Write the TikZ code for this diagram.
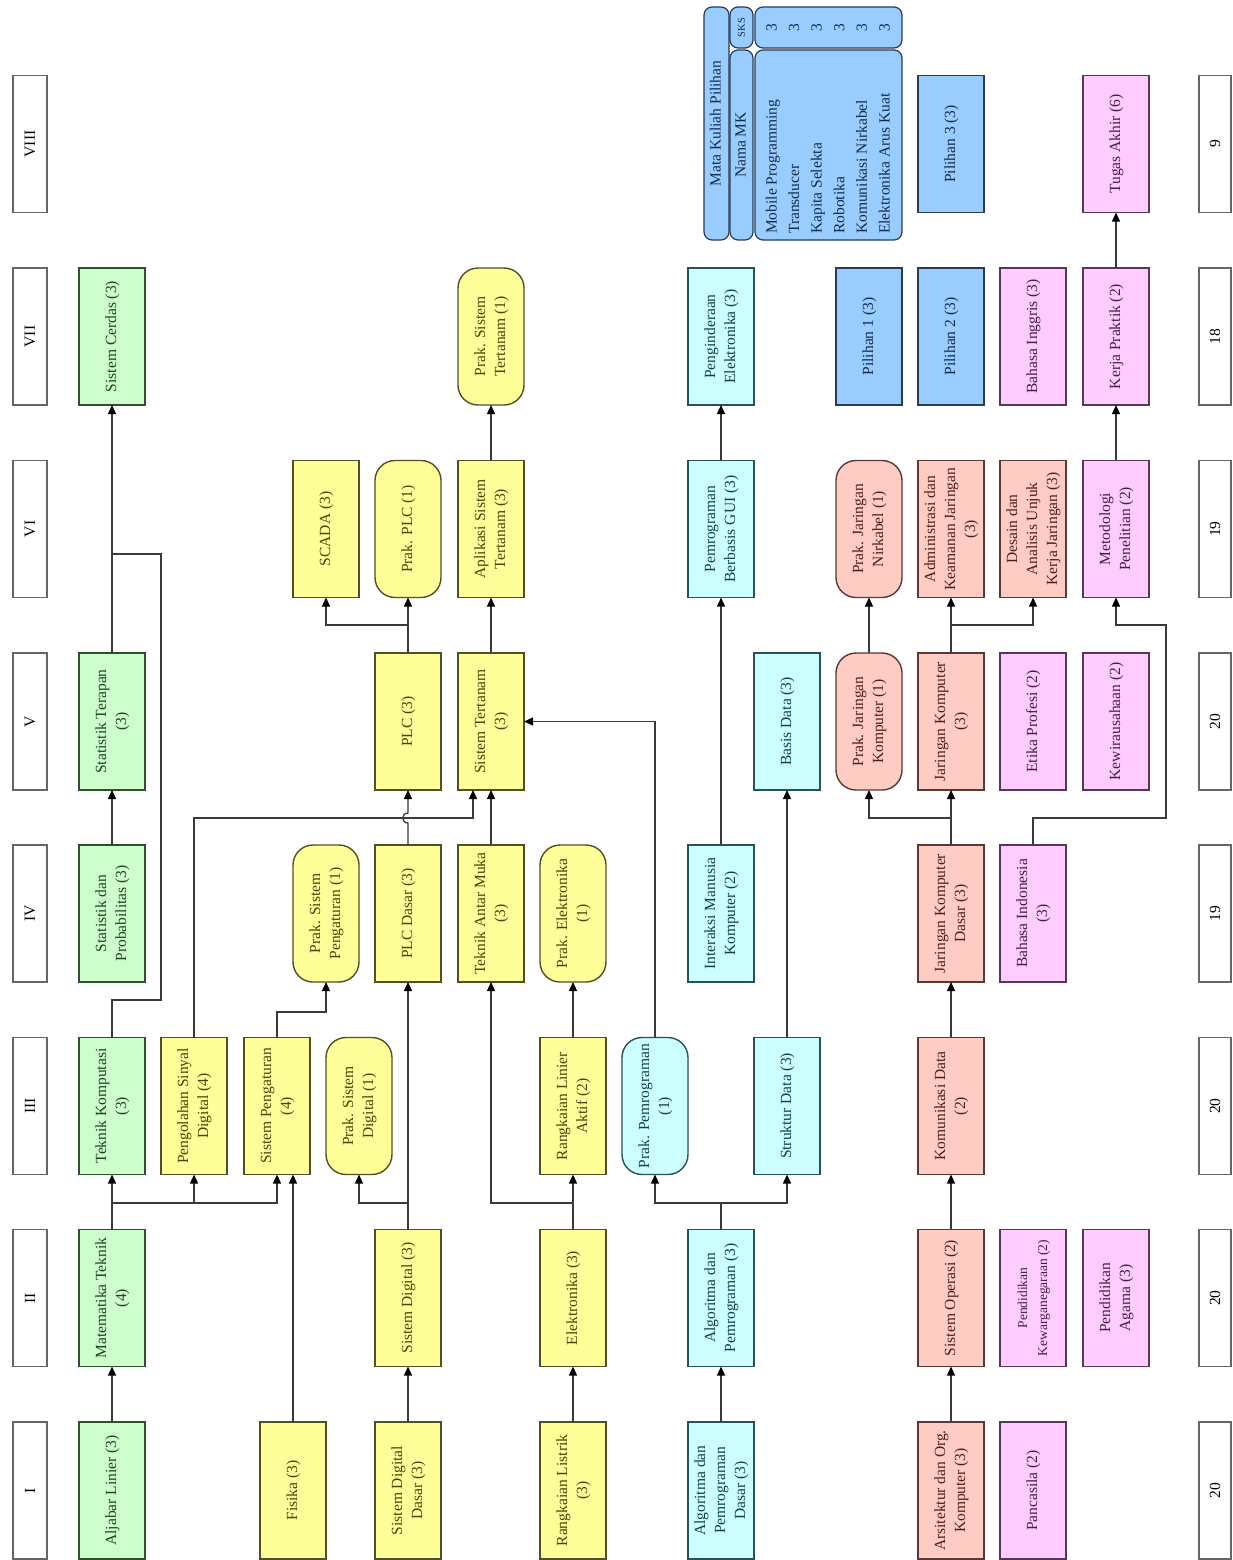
\documentclass[tikz,border=0pt]{standalone}
\usepackage{fontspec}
\setmainfont{Liberation Serif}
\usepackage{graphicx}
\usetikzlibrary{arrows.meta}
\definecolor{gF}{HTML}{CCFFCC}
\definecolor{gD}{HTML}{2F4F2F}
\definecolor{gT}{HTML}{1A471A}
\definecolor{yF}{HTML}{FFFF99}
\definecolor{yD}{HTML}{505028}
\definecolor{yT}{HTML}{45450A}
\definecolor{cF}{HTML}{CCFFFF}
\definecolor{cD}{HTML}{2A5058}
\definecolor{cT}{HTML}{123F48}
\definecolor{sF}{HTML}{FFCCC4}
\definecolor{sD}{HTML}{583838}
\definecolor{sT}{HTML}{501C1C}
\definecolor{pF}{HTML}{FFCCFF}
\definecolor{pD}{HTML}{553855}
\definecolor{pT}{HTML}{4A1A4A}
\definecolor{bF}{HTML}{99CCFF}
\definecolor{bD}{HTML}{2A3C55}
\definecolor{bT}{HTML}{132B4A}
\definecolor{lnC}{HTML}{3A3A3A}
\newcommand{\rtx}[1]{\rotatebox{90}{\begin{tabular}{@{}c@{}}#1\end{tabular}}}
\newcommand{\rtxl}[1]{\rotatebox{90}{\begin{tabular}{@{}l@{}}#1\end{tabular}}}
\begin{document}
\begin{tikzpicture}[x=1pt,y=-1pt,
  crs/.style={draw, line width=1.4pt, minimum width=66pt, minimum height=137pt, inner sep=0pt, outer sep=0pt, font=\fontsize{15.5}{20}\selectfont},
  grn/.style={crs, fill=gF, draw=gD, text=gT},
  ylw/.style={crs, fill=yF, draw=yD, text=yT},
  cyn/.style={crs, fill=cF, draw=cD, text=cT},
  slm/.style={crs, fill=sF, draw=sD, text=sT},
  pnk/.style={crs, fill=pF, draw=pD, text=pT},
  blu/.style={crs, fill=bF, draw=bD, text=bT},
  prak/.style={rounded corners=20pt},
  semlab/.style={draw=black!60, fill=white, line width=1.4pt, minimum width=34pt, minimum height=137pt, inner sep=0pt, outer sep=0pt, font=\fontsize{15.5}{20}\selectfont},
  tbl/.style={draw=bD, fill=bF, line width=1.2pt, rounded corners=8pt, inner sep=0pt, outer sep=0pt, text=bT, font=\fontsize{15.5}{20}\selectfont},
  con/.style={draw=lnC, line width=1.3pt},
  arr/.style={con, -{Triangle[length=9pt,width=8pt,color=black]}}
]
\useasboundingbox (0,0) rectangle (1232,1560);
\fill[white] (0,0) rectangle (1232,1560);

% semester labels and credits
\foreach \n/\t/\y in {s1/I/1490.5, s2/II/1298, s3/III/1106, s4/IV/913.5, s5/V/721.5, s6/VI/529, s7/VII/336.5, s8/VIII/144}
  \node[semlab] (\n) at (30,\y) {\rotatebox{90}{\t}};
\foreach \n/\t/\y in {c1/20/1490.5, c2/20/1298, c3/20/1106, c4/19/913.5, c5/20/721.5, c6/19/529, c7/18/336.5, c8/9/144}
  \node[semlab, minimum width=32pt] (\n) at (1215,\y) {\rotatebox{90}{\t}};

% Row I
\node[grn] (alj) at (112,1490.5) {\rtx{Aljabar Linier (3)}};
\node[ylw] (fis) at (293,1490.5) {\rtx{Fisika (3)}};
\node[ylw] (sdd) at (408,1490.5) {\rtx{Sistem Digital\\Dasar (3)}};
\node[ylw] (rl) at (573,1490.5) {\rtx{Rangkaian Listrik\\(3)}};
\node[cyn] (apd) at (721,1490.5) {\rtx{Algoritma dan\\Pemrograman\\Dasar (3)}};
\node[slm] (aok) at (951,1490.5) {\rtx{Arsitektur dan Org.\\Komputer (3)}};
\node[pnk] (pan) at (1033,1490.5) {\rtx{Pancasila (2)}};

% Row II
\node[grn] (mt) at (112,1298) {\rtx{Matematika Teknik\\(4)}};
\node[ylw] (sd) at (408,1298) {\rtx{Sistem Digital (3)}};
\node[ylw] (el) at (573,1298) {\rtx{Elektronika (3)}};
\node[cyn] (ap) at (721,1298) {\rtx{Algoritma dan\\Pemrograman (3)}};
\node[slm] (so) at (951,1298) {\rtx{Sistem Operasi (2)}};
\node[pnk, font=\fontsize{13.5}{20}\selectfont] (pkn) at (1033,1298) {\rtx{Pendidikan\\Kewarganegaraan (2)}};
\node[pnk] (pag) at (1116,1298) {\rtx{Pendidikan\\Agama (3)}};

% Row III
\node[grn] (tk) at (112,1106) {\rtx{Teknik Komputasi\\(3)}};
\node[ylw] (pgl) at (194,1106) {\rtx{Pengolahan Sinyal\\Digital (4)}};
\node[ylw] (sp) at (277,1106) {\rtx{Sistem Pengaturan\\(4)}};
\node[ylw, prak] (prsd) at (359,1106) {\rtx{Prak. Sistem\\Digital (1)}};
\node[ylw] (rla) at (573,1106) {\rtx{Rangkaian Linier\\Aktif (2)}};
\node[cyn, prak] (prpem) at (655,1106) {\rtx{Prak. Pemrograman\\(1)}};
\node[cyn] (sdat) at (787,1106) {\rtx{Struktur Data (3)}};
\node[slm] (kd) at (951,1106) {\rtx{Komunikasi Data\\(2)}};

% Row IV
\node[grn] (sdp) at (112,913.5) {\rtx{Statistik dan\\Probabilitas (3)}};
\node[ylw, prak] (prsp) at (326,913.5) {\rtx{Prak. Sistem\\Pengaturan (1)}};
\node[ylw] (plcd) at (408,913.5) {\rtx{PLC Dasar (3)}};
\node[ylw] (tam) at (491,913.5) {\rtx{Teknik Antar Muka\\(3)}};
\node[ylw, prak] (prel) at (573,913.5) {\rtx{Prak. Elektronika\\(1)}};
\node[cyn] (imk) at (721,913.5) {\rtx{Interaksi Manusia\\Komputer (2)}};
\node[slm] (jkd) at (951,913.5) {\rtx{Jaringan Komputer\\Dasar (3)}};
\node[pnk] (bi) at (1033,913.5) {\rtx{Bahasa Indonesia\\(3)}};

% Row V
\node[grn] (stt) at (112,721.5) {\rtx{Statistik Terapan\\(3)}};
\node[ylw] (plc) at (408,721.5) {\rtx{PLC (3)}};
\node[ylw] (st) at (491,721.5) {\rtx{Sistem Tertanam\\(3)}};
\node[cyn] (bd) at (787,721.5) {\rtx{Basis Data (3)}};
\node[slm, prak] (prjk) at (869,721.5) {\rtx{Prak. Jaringan\\Komputer (1)}};
\node[slm] (jk) at (951,721.5) {\rtx{Jaringan Komputer\\(3)}};
\node[pnk] (ep) at (1033,721.5) {\rtx{Etika Profesi (2)}};
\node[pnk] (kw) at (1116,721.5) {\rtx{Kewirausahaan (2)}};

% Row VI
\node[ylw] (scada) at (326,529) {\rtx{SCADA (3)}};
\node[ylw, prak] (prplc) at (408,529) {\rtx{Prak. PLC (1)}};
\node[ylw] (ast) at (491,529) {\rtx{Aplikasi Sistem\\Tertanam (3)}};
\node[cyn] (gui) at (721,529) {\rtx{Pemrograman\\Berbasis GUI (3)}};
\node[slm, prak] (prjn) at (869,529) {\rtx{Prak. Jaringan\\Nirkabel (1)}};
\node[slm] (akj) at (951,529) {\rtx{Administrasi dan\\Keamanan Jaringan\\(3)}};
\node[slm] (dau) at (1033,529) {\rtx{Desain dan\\Analisis Unjuk\\Kerja Jaringan (3)}};
\node[pnk] (met) at (1116,529) {\rtx{Metodologi\\Penelitian (2)}};

% Row VII
\node[grn] (sc) at (112,336.5) {\rtx{Sistem Cerdas (3)}};
\node[ylw, prak] (prst) at (491,336.5) {\rtx{Prak. Sistem\\Tertanam (1)}};
\node[cyn] (pe) at (721,336.5) {\rtx{Penginderaan\\Elektronika (3)}};
\node[blu] (pil1) at (869,336.5) {\rtx{Pilihan 1 (3)}};
\node[blu] (pil2) at (951,336.5) {\rtx{Pilihan 2 (3)}};
\node[pnk] (bing) at (1033,336.5) {\rtx{Bahasa Inggris (3)}};
\node[pnk] (kp) at (1116,336.5) {\rtx{Kerja Praktik (2)}};

% Row VIII
\node[blu] (pil3) at (951,144) {\rtx{Pilihan 3 (3)}};
\node[pnk] (ta) at (1116,144) {\rtx{Tugas Akhir (6)}};

% elective table
\node[tbl, minimum width=25pt, minimum height=233pt] (mkp) at (716.5,123.5) {\rtx{Mata Kuliah Pilihan}};
\node[tbl, minimum width=23pt, minimum height=41pt, font=\fontsize{10.5}{12}\selectfont] (sks) at (741.5,27.5) {\rotatebox{90}{SKS}};
\node[tbl, minimum width=23pt, minimum height=190pt] (nmk) at (741.5,145) {\rtx{Nama MK}};
\node[tbl, minimum width=147pt, minimum height=41pt, font=\fontsize{15.5}{22.6}\selectfont] (skv) at (828.5,27.5) {\rtx{3\\3\\3\\3\\3\\3}};
\node[tbl, minimum width=147pt, minimum height=190pt] (lstc) at (828.5,145) {};
\node[anchor=south, inner sep=0pt, text=bT, font=\fontsize{15.5}{22.6}\selectfont] (lst) at ([yshift=6pt]lstc.south) {\rtxl{Mobile Programming\\Transducer\\Kapita Selekta\\Robotika\\Komunikasi Nirkabel\\Elektronika Arus Kuat}};

% branch levels
\coordinate (b23) at (0,1203);
\coordinate (b34a) at (0,1000);
\coordinate (b34b) at (0,1012);
\coordinate (b45) at (0,818);
\coordinate (b56) at (0,625);
\coordinate (b67) at (0,554);
\coordinate (jogA) at (161,0);
\coordinate (jogB) at (1166,0);
\coordinate (stin) at ([xshift=-18pt]st.south);
\coordinate (hop) at (plcd.north |- b45);

% connectors
\draw[arr] (alj) -- (mt);
\draw[arr] (mt) -- (tk);
\draw[arr] (mt.north |- b23) -| (pgl.south);
\draw[arr] (mt.north |- b23) -| (sp.south);
\draw[arr] (fis.north) -- (fis.north |- sp.south);
\draw[arr] (sdd) -- (sd);
\draw[arr] (sd) -- (plcd);
\draw[arr] (sd.north |- b23) -| (prsd.south);
\draw[arr] (plcd.north) -- ([yshift=-5pt]hop) .. controls +(-7,0) and +(-7,0) .. ([yshift=5pt]hop) -- (plc.south);
\draw[arr] (rl) -- (el);
\draw[arr] (el) -- (rla);
\draw[arr] (el.north |- b23) -| (tam.south);
\draw[arr] (rla) -- (prel);
\draw[arr] (apd) -- (ap);
\draw[con] (ap.north) -- (ap.north |- b23);
\draw[arr] (ap.north |- b23) -| (prpem.south);
\draw[arr] (ap.north |- b23) -| (sdat.south);
\draw[arr] (prpem.north) |- (st.east);
\draw[arr] (sdat) -- (bd);
\draw[arr] (imk) -- (gui);
\draw[arr] (gui) -- (pe);
\draw[arr] (aok) -- (so);
\draw[arr] (so) -- (kd);
\draw[arr] (kd) -- (jkd);
\draw[arr] (jkd) -- (jk);
\draw[arr] (jkd.north |- b45) -| (prjk.south);
\draw[arr] (prjk) -- (prjn);
\draw[arr] (jk) -- (akj);
\draw[arr] (jk.north |- b56) -| (dau.south);
\draw[arr] (bi.north) -- (bi.north |- b45) -| (jogB |- b56) -| (met.south);
\draw[arr] (met) -- (kp);
\draw[arr] (kp) -- (ta);
\draw[con] (tk.north) -- (tk.north |- b34a) -| (jogA |- b67) -- (tk.north |- b67);
\draw[arr] (sdp) -- (stt);
\draw[arr] (stt) -- (sc);
\draw[arr] (pgl.north) |- (stin |- b45) -- (stin);
\draw[arr] (tam) -- (st);
\draw[arr] (plc) -- (prplc);
\draw[arr] (plc.north |- b56) -| (scada.south);
\draw[arr] (st) -- (ast);
\draw[arr] (ast) -- (prst);
\draw[arr] (sp.north) -- (sp.north |- b34b) -| (prsp.south);
\end{tikzpicture}
\end{document}
